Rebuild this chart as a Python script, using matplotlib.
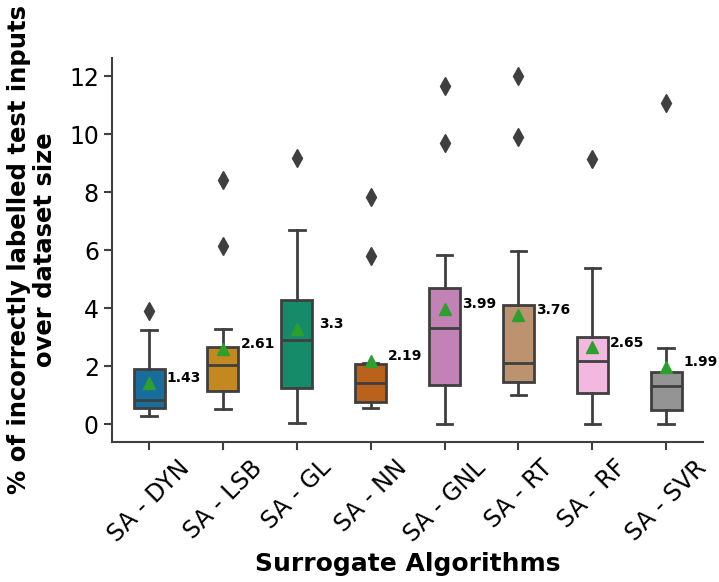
import matplotlib
matplotlib.use("Agg")
import matplotlib.pyplot as plt
import seaborn as sns

categories = ["SA - DYN", "SA - LSB", "SA - GL", "SA - NN", "SA - GNL", "SA - RT", "SA - RF", "SA - SVR"]
whislo = [0.29, 0.53, 0.03, 0.55, 0.0, 1.0, 0.0, 0.0]
q1 = [0.56, 1.15, 1.26, 0.76, 1.36, 1.46, 1.07, 0.49]
med = [0.84, 2.03, 2.90, 1.42, 3.33, 2.12, 2.19, 1.31]
q3 = [1.89, 2.67, 4.28, 2.08, 4.69, 4.10, 3.00, 1.82]
whishi = [3.25, 3.27, 6.69, 2.13, 5.85, 5.99, 5.39, 2.64]
means = [1.43, 2.61, 3.3, 2.19, 3.99, 3.76, 2.65, 1.99]
fliers = [[3.91], [6.16, 8.41], [9.19], [5.79, 7.84], [9.68, 11.65], [9.90, 12.02], [9.13], [11.07]]
yticks = [0, 2, 4, 6, 8, 10, 12]

palette = sns.color_palette("colorblind", len(categories))
colors = [sns.desaturate(c, 0.75) for c in palette]
gray = "#3f3f3f"

fig = plt.figure(figsize=(7.19, 5.82), dpi=100)
ax = fig.add_axes([0.156, 0.241, 0.822, 0.659])

stats = []
for i, c in enumerate(categories):
    stats.append(dict(label=c, whislo=whislo[i], q1=q1[i], med=med[i], q3=q3[i],
                      whishi=whishi[i], mean=means[i], fliers=fliers[i]))

lw = 2.0
bp = ax.bxp(stats, positions=range(len(categories)), widths=0.42, patch_artist=True,
            showmeans=True,
            boxprops=dict(edgecolor=gray, linewidth=lw),
            medianprops=dict(color=gray, linewidth=lw),
            whiskerprops=dict(color=gray, linewidth=lw),
            capprops=dict(color=gray, linewidth=lw),
            flierprops=dict(marker="d", markerfacecolor=gray, markeredgecolor=gray, markersize=9),
            meanprops=dict(marker="^", markerfacecolor="#2ca02c", markeredgecolor="#2ca02c", markersize=9))
for patch, col in zip(bp["boxes"], colors):
    patch.set_facecolor(col)

for i, m in enumerate(means):
    ax.text(i + 0.47, m + 0.17, f"{m:g}", ha="center", va="center",
            fontsize=10, fontweight="bold", color="black")

ax.set_xlim(-0.5, len(categories) - 0.5)
ax.set_ylim(-0.6, 12.62)
ax.set_yticks(yticks)
ax.set_yticklabels([str(t) for t in yticks], fontsize=17)
ax.set_xticks(range(len(categories)))
ax.set_xticklabels(categories, rotation=45, fontsize=17, ha="center")
for side in ["top", "right"]:
    ax.spines[side].set_visible(False)
for side in ["left", "bottom"]:
    ax.spines[side].set_color(gray)
    ax.spines[side].set_linewidth(1.5)
ax.tick_params(axis="both", colors=gray, width=1.5, length=6, labelcolor="black")
ax.tick_params(axis="x", pad=4)

ax.set_xlabel("Surrogate Algorithms", fontsize=18, fontweight="bold")
ax.xaxis.set_label_coords(0.5, -0.287)
ax.set_ylabel("% of incorrectly labelled test inputs\nover dataset size", fontsize=17.5,
              fontweight="bold", linespacing=1.1, labelpad=9)

fig.savefig("out.png", dpi=100)
